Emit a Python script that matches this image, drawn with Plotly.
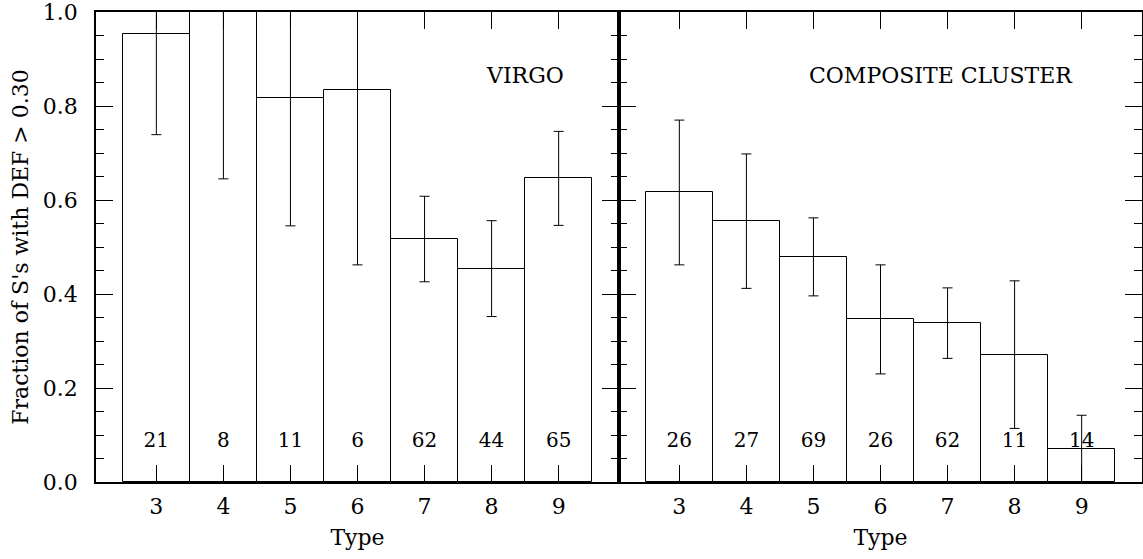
import plotly.graph_objects as go

types = [3, 4, 5, 6, 7, 8, 9]
virgo_frac = [0.953, 1.0, 0.818, 0.834, 0.517, 0.454, 0.646]
virgo_err = [0.214, 0.355, 0.273, 0.372, 0.091, 0.102, 0.100]
virgo_n = ["21", "8", "11", "6", "62", "44", "65"]
comp_frac = [0.616, 0.555, 0.479, 0.346, 0.338, 0.271, 0.071]
comp_err = [0.154, 0.143, 0.083, 0.116, 0.075, 0.157, 0.071]
comp_n = ["26", "27", "69", "26", "62", "11", "14"]
count_y = 0.085

FONT = "DejaVu Serif"
fig = go.Figure()

for frac, err, n, xa, ya in [
    (virgo_frac, virgo_err, virgo_n, "x", "y"),
    (comp_frac, comp_err, comp_n, "x2", "y2"),
]:
    fig.add_trace(go.Bar(
        x=types, y=frac, width=1, xaxis=xa, yaxis=ya,
        marker=dict(color="white", line=dict(color="black", width=1)),
        error_y=dict(type="data", array=err, visible=True, color="black",
                     thickness=1, width=5),
        showlegend=False, hoverinfo="skip",
    ))
    fig.add_trace(go.Scatter(
        x=types, y=[count_y] * len(types), mode="text", text=n,
        textfont=dict(family=FONT, size=20, color="black"),
        xaxis=xa, yaxis=ya, showlegend=False, cliponaxis=False, hoverinfo="skip",
    ))

xcommon = dict(range=[2.1, 9.9], tickvals=types, ticks="inside", ticklen=17,
               tickwidth=1, tickcolor="black", showline=True, linecolor="black",
               linewidth=1.5, mirror="ticks", showgrid=False, zeroline=False,
               automargin=False, ticklabelstandoff=4,
               tickfont=dict(family=FONT, size=22, color="black"),
               title=dict(text="Type", font=dict(family=FONT, size=22, color="black"), standoff=11))
ycommon = dict(range=[0, 1], tickvals=[0, 0.2, 0.4, 0.6, 0.8, 1.0], ticks="inside",
               ticklen=17, tickwidth=1, tickcolor="black", showline=True,
               linecolor="black", linewidth=1.5, mirror="ticks", showgrid=False,
               zeroline=False, automargin=False, ticklabeloverflow="allow",
               minor=dict(dtick=0.05, ticks="inside", ticklen=8, tickwidth=1,
                          tickcolor="black", showgrid=False),
               tickfont=dict(family=FONT, size=22, color="black"))

fig.update_layout(
    width=1143, height=559,
    margin=dict(l=96, r=1, t=12, b=77),
    paper_bgcolor="white", plot_bgcolor="white",
    font=dict(family=FONT, color="black"),
    bargap=0,
    xaxis=dict(domain=[0, 0.5], anchor="y", **xcommon),
    xaxis2=dict(domain=[0.5, 1], anchor="y2", **xcommon),
    yaxis=dict(anchor="x", tickformat=".1f", ticklabelstandoff=12,
               title=dict(text="Fraction of S's with DEF > 0.30",
                          font=dict(family=FONT, size=22, color="black"), standoff=8),
               **ycommon),
    yaxis2=dict(anchor="x2", matches="y", showticklabels=False, **ycommon),
)
fig.add_annotation(text="VIRGO", x=8.5, y=0.865, xref="x", yref="y", showarrow=False,
                   font=dict(family=FONT, size=22, color="black"))
fig.add_annotation(text="COMPOSITE CLUSTER", x=6.9, y=0.865, xref="x2", yref="y2",
                   showarrow=False, font=dict(family=FONT, size=22, color="black"))

fig.write_html("out.html", config={"displayModeBar": False},
               post_script="document.body.style.margin='0';document.body.style.overflow='hidden';")
